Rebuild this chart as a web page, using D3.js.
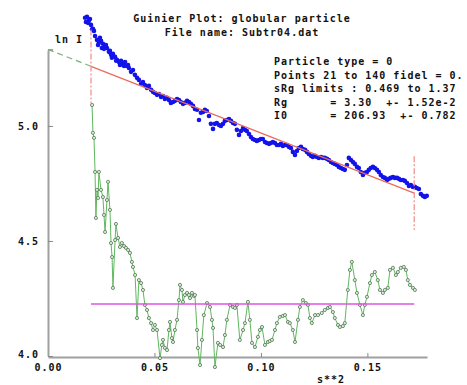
<!DOCTYPE html>
<html><head><meta charset="utf-8">
<script src="https://cdn.jsdelivr.net/npm/d3@7/dist/d3.min.js"></script>
<style>
html,body{margin:0;padding:0;background:#fff;}
text{font-family:"DejaVu Sans Mono",monospace;font-weight:bold;font-size:10px;letter-spacing:1px;fill:#111;}
</style></head>
<body><svg id="c" width="467" height="385"></svg>
<script>
// ---------- data ----------
const titleLines = ["Guinier Plot: globular particle", "File name: Subtr04.dat"];
const infoLines = [
  "Particle type = 0",
  "Points 21 to 140 fidel = 0.",
  "sRg limits : 0.469 to 1.37",
  "Rg      = 3.30  +- 1.52e-2",
  "I0      = 206.93  +- 0.782"
];
const xTicks = [0.00, 0.05, 0.10, 0.15];
const yTicks = [4.0, 4.5, 5.0];
const xLabel = "s**2";
const yLabel = "ln I";
const Rg = 3.30;
const I0 = 206.93;
const fitRange = [0.0202, 0.1720];
const magentaLevel = 4.226;

const blueS2 = [0.0174,0.0183,0.0192,0.0202,0.0211,0.0221,0.0230,0.0239,0.0249,0.0258,0.0268,0.0277,0.0286,0.0296,0.0305,0.0315,0.0324,0.0333,0.0343,0.0352,0.0362,0.0371,0.0380,0.0390,0.0399,0.0408,0.0418,0.0427,0.0437,0.0446,0.0455,0.0465,0.0474,0.0484,0.0493,0.0502,0.0512,0.0521,0.0531,0.0540,0.0549,0.0559,0.0568,0.0577,0.0587,0.0596,0.0606,0.0615,0.0624,0.0634,0.0643,0.0653,0.0662,0.0671,0.0681,0.0690,0.0700,0.0709,0.0718,0.0728,0.0737,0.0746,0.0756,0.0765,0.0775,0.0784,0.0793,0.0803,0.0812,0.0822,0.0831,0.0840,0.0850,0.0859,0.0869,0.0878,0.0887,0.0897,0.0906,0.0916,0.0925,0.0934,0.0944,0.0953,0.0962,0.0972,0.0981,0.0991,0.1000,0.1009,0.1019,0.1028,0.1038,0.1047,0.1056,0.1066,0.1075,0.1085,0.1094,0.1103,0.1113,0.1122,0.1131,0.1141,0.1150,0.1160,0.1169,0.1178,0.1188,0.1197,0.1207,0.1216,0.1225,0.1235,0.1244,0.1254,0.1263,0.1272,0.1282,0.1291,0.1300,0.1310,0.1319,0.1329,0.1338,0.1347,0.1357,0.1366,0.1376,0.1385,0.1394,0.1404,0.1413,0.1423,0.1432,0.1441,0.1451,0.1460,0.1469,0.1479,0.1488,0.1498,0.1507,0.1516,0.1526,0.1535,0.1545,0.1554,0.1563,0.1573,0.1582,0.1592,0.1601,0.1610,0.1620,0.1629,0.1639,0.1648,0.1657,0.1667,0.1676,0.1686,0.1695,0.1704,0.1714,0.1723,0.1732,0.1742,0.1751,0.1761,0.1770,0.1779,
  0.0178,0.0188,0.0197,0.0207,0.0216,0.0235,0.0244,0.0253,0.0263,0.0272,0.0291,0.0300,0.0320,0.0338,0.0357,0.0376];
const blueLnI = [5.470,5.474,5.457,5.439,5.422,5.391,5.374,5.361,5.370,5.357,5.348,5.339,5.322,5.309,5.313,5.300,5.287,5.278,5.283,5.274,5.278,5.261,5.252,5.235,5.243,5.222,5.209,5.200,5.183,5.191,5.178,5.165,5.174,5.157,5.148,5.143,5.135,5.139,5.126,5.130,5.117,5.122,5.113,5.100,5.104,5.109,5.117,5.113,5.104,5.096,5.100,5.109,5.104,5.096,5.087,5.074,5.070,5.026,5.057,5.061,5.070,5.065,5.043,5.009,4.987,5.009,5.013,5.004,5.000,5.009,5.022,5.026,5.030,5.022,5.013,5.009,4.983,4.961,4.978,4.991,4.983,4.978,4.965,4.952,4.943,4.939,4.935,4.939,4.943,4.943,4.930,4.926,4.922,4.926,4.930,4.926,4.917,4.917,4.922,4.913,4.917,4.917,4.909,4.904,4.887,4.874,4.891,4.904,4.909,4.900,4.896,4.887,4.878,4.870,4.865,4.870,4.865,4.861,4.865,4.861,4.861,4.857,4.852,4.843,4.839,4.835,4.830,4.822,4.817,4.813,4.809,4.830,4.861,4.852,4.843,4.835,4.822,4.817,4.800,4.787,4.796,4.800,4.809,4.817,4.822,4.817,4.809,4.800,4.787,4.778,4.774,4.765,4.770,4.774,4.778,4.774,4.774,4.770,4.765,4.765,4.761,4.752,4.739,4.743,4.735,4.735,4.730,4.726,4.704,4.696,4.691,4.696,
  5.452,5.448,5.465,5.420,5.413,5.352,5.383,5.339,5.335,5.352,5.326,5.296,5.283,5.265,5.261,5.265];

const greenS2 = [0.0207,0.0211,0.0216,0.0221,0.0225,0.0230,0.0235,0.0239,0.0249,0.0258,0.0263,0.0268,0.0277,0.0282,0.0291,0.0296,0.0301,0.0305,0.0315,0.0319,0.0329,0.0338,0.0347,0.0357,0.0366,0.0376,0.0385,0.0394,0.0399,0.0409,0.0418,0.0427,0.0437,0.0446,0.0455,0.0465,0.0474,0.0484,0.0493,0.0502,0.0512,0.0526,0.0535,0.0540,0.0549,0.0559,0.0568,0.0573,0.0582,0.0587,0.0596,0.0606,0.0615,0.0620,0.0629,0.0634,0.0643,0.0653,0.0662,0.0667,0.0676,0.0685,0.0690,0.0700,0.0704,0.0714,0.0723,0.0732,0.0747,0.0761,0.0770,0.0775,0.0784,0.0798,0.0808,0.0822,0.0831,0.0840,0.0855,0.0869,0.0878,0.0887,0.0901,0.0916,0.0925,0.0939,0.0948,0.0958,0.0972,0.0986,0.0995,0.1005,0.1019,0.1033,0.1042,0.1052,0.1066,0.1075,0.1089,0.1103,0.1113,0.1127,0.1136,0.1150,0.1160,0.1174,0.1183,0.1197,0.1211,0.1221,0.1230,0.1239,0.1254,0.1268,0.1286,0.1300,0.1315,0.1324,0.1338,0.1347,0.1362,0.1371,0.1385,0.1394,0.1408,0.1418,0.1427,0.1441,0.1451,0.1465,0.1479,0.1488,0.1498,0.1512,0.1521,0.1535,0.1549,0.1559,0.1573,0.1582,0.1596,0.1606,0.1620,0.1634,0.1643,0.1657,0.1671,0.1681,0.1690,0.1700,0.1714,0.1723];
const greenVal = [5.091,4.970,4.948,4.800,4.600,4.722,4.687,4.800,4.722,4.691,4.613,4.539,4.678,4.757,4.635,4.491,4.430,4.296,4.504,4.574,4.513,4.474,4.491,4.478,4.470,4.461,4.448,4.409,4.387,4.352,4.165,4.330,4.317,4.287,4.222,4.200,4.165,4.143,4.113,4.135,4.113,3.991,4.048,4.070,4.035,4.026,4.113,4.148,4.078,4.061,4.113,4.157,4.243,4.309,4.287,4.235,4.265,4.274,4.265,4.252,4.274,4.261,4.265,4.113,4.035,3.961,4.070,4.178,4.230,4.213,4.157,4.122,3.952,4.057,4.048,4.039,4.091,4.157,4.222,4.213,4.209,4.222,4.070,4.113,4.143,4.235,4.157,4.057,4.039,4.083,4.113,4.126,4.048,4.061,4.065,4.070,4.113,4.143,4.170,4.174,4.178,4.148,4.143,4.113,4.061,4.157,4.213,4.243,4.230,4.222,4.165,4.143,4.178,4.178,4.187,4.200,4.209,4.213,4.191,4.165,4.135,4.126,4.130,4.143,4.287,4.374,4.409,4.330,4.274,4.222,4.178,4.222,4.257,4.317,4.352,4.365,4.330,4.287,4.274,4.287,4.296,4.374,4.383,4.352,4.365,4.383,4.387,4.374,4.330,4.309,4.296,4.287];

// ---------- drawing ----------
const svg = d3.select("#c");
svg.append("rect").attr("width",467).attr("height",385).attr("fill","#fff");

const x = d3.scaleLinear().domain([0, 0.178]).range([48, 427]);
const y = d3.scaleLinear().domain([4.0, 5.33]).range([356, 50]);

const fitLn = s2 => Math.log(I0) - Rg*Rg/3*s2;

// axes
const axisColor = "#a0a0a0";
const gx = svg.append("g").attr("transform", `translate(0,${y(4.0)+1})`)
  .call(d3.axisBottom(x).tickValues(xTicks).tickFormat(d3.format(".2f")).tickSizeInner(-4).tickSizeOuter(0).tickPadding(7));
const gy = svg.append("g").attr("transform", `translate(${x(0)},0)`)
  .call(d3.axisLeft(y).tickValues(yTicks).tickFormat(d3.format(".1f")).tickSizeInner(-5).tickSizeOuter(0).tickPadding(9));
[gx, gy].forEach(g => {
  g.select(".domain").attr("stroke", axisColor).attr("stroke-width", 2);
  g.selectAll(".tick line").attr("stroke", "#888").attr("stroke-width", 1);
  g.selectAll(".tick text").attr("fill", "#222").style("font-size","10px");
});
gy.selectAll(".tick text").filter(d => d === 4.0).attr("dy", "0.1em");
// top tick of y axis
svg.append("line").attr("x1", x(0)).attr("x2", x(0)+5).attr("y1", y(5.33)).attr("y2", y(5.33))
  .attr("stroke", axisColor).attr("stroke-width", 2);

// green series (line + markers)
const green = greenS2.map((s, i) => [s, greenVal[i]]);
svg.append("path").datum(green)
  .attr("d", d3.line().x(d => x(d[0])).y(d => y(d[1])))
  .attr("fill", "none").attr("stroke", "#5fb85f").attr("stroke-width", 1);
svg.append("g").selectAll("circle").data(green).join("circle")
  .attr("cx", d => x(d[0])).attr("cy", d => y(d[1])).attr("r", 1.6)
  .attr("fill", "#d8ecd8").attr("stroke", "#557a55").attr("stroke-width", 0.8);

// magenta level
svg.append("line").attr("x1", x(fitRange[0])).attr("x2", x(fitRange[1]))
  .attr("y1", y(magentaLevel)).attr("y2", y(magentaLevel))
  .attr("stroke", "#e055e0").attr("stroke-width", 1.6);

// blue data points
const blue = blueS2.map((s, i) => [s, blueLnI[i]]).filter(d => d[1] !== undefined);
svg.append("g").selectAll("circle").data(blue).join("circle")
  .attr("cx", d => x(d[0])).attr("cy", d => y(d[1])).attr("r", 2.3)
  .attr("fill", "#1212ea");

// fit line
svg.append("line").attr("x1", x(fitRange[0])).attr("x2", x(fitRange[1]))
  .attr("y1", y(fitLn(fitRange[0]))).attr("y2", y(fitLn(fitRange[1])))
  .attr("stroke", "#ec6a5a").attr("stroke-width", 1.2);
// extrapolation to zero
svg.append("line").attr("x1", x(0)).attr("x2", x(fitRange[0]))
  .attr("y1", y(fitLn(0))).attr("y2", y(fitLn(fitRange[0])))
  .attr("stroke", "#7ab07a").attr("stroke-width", 1.2).attr("stroke-dasharray", "6,4");
// fit-range markers
fitRange.forEach(s => {
  svg.append("line").attr("x1", x(s)).attr("x2", x(s))
    .attr("y1", y(fitLn(s) + 0.16)).attr("y2", y(fitLn(s) - 0.16))
    .attr("stroke", "#f08a8a").attr("stroke-width", 1.2).attr("stroke-dasharray", "6,2,2,2");
});

// texts
titleLines.forEach((t, i) => svg.append("text").attr("x", 242).attr("y", 22 + i*13.5)
  .attr("text-anchor", "middle").text(t));
infoLines.forEach((t, i) => svg.append("text").attr("x", 274).attr("y", 65 + i*13.5)
  .style("white-space","pre").attr("xml:space","preserve").text(t));
svg.append("text").attr("x", 55).attr("y", 43).text(yLabel);
svg.append("text").attr("x", 331).attr("y", 383).attr("text-anchor", "middle").text(xLabel);
</script></body></html>
